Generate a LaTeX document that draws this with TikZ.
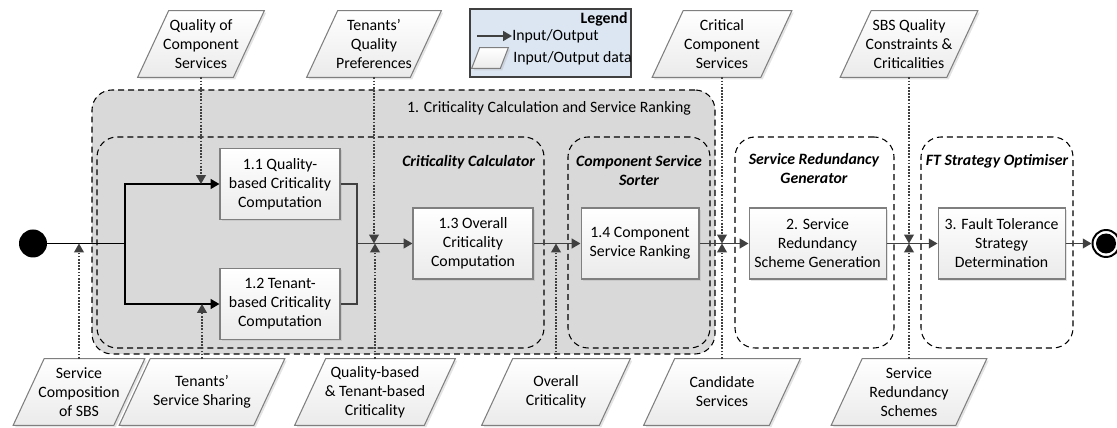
\documentclass[tikz,border=0pt]{standalone}
\usepackage{fontspec}
\setmainfont{Carlito}
\usepackage{xcolor}
\usepackage{tikz}
\usetikzlibrary{arrows.meta,positioning,shapes.geometric,calc,fit,backgrounds,shadows}

\definecolor{lanegray}{HTML}{D9D9D9}
\definecolor{legendblue}{HTML}{DCE6F2}
\definecolor{flowgray}{HTML}{404040}
\definecolor{edgegray}{HTML}{7F7F7F}
\newcommand{\diagfont}{\fontsize{9}{10.8}\selectfont}

\begin{document}
\begin{tikzpicture}[
    x=0.02cm, y=-0.02cm,
    font=\diagfont,
    procbox/.style={draw=edgegray, top color=white, bottom color=gray!16, align=center, minimum height=1.42cm, inner sep=2pt, line width=0.6pt, drop shadow={shadow xshift=1.1pt, shadow yshift=-1.1pt, opacity=0.3, fill=gray!70}},
    datanode/.style={align=center, minimum height=1.32cm, inner sep=1pt},
    datashape/.style={draw=edgegray, top color=white, bottom color=gray!16, line width=0.6pt, drop shadow={shadow xshift=1.1pt, shadow yshift=-1.1pt, opacity=0.3, fill=gray!70}},
    groupframe/.style={draw=black, dash pattern=on 3.4pt off 2.3pt, rounded corners=0.4cm, line width=0.6pt, inner sep=0pt},
    grouptitle/.style={font=\diagfont\bfseries\itshape, align=center, inner sep=1pt},
    legendbox/.style={draw=flowgray, fill=legendblue, line width=0.6pt, minimum width=3.22cm, minimum height=1.36cm, inner sep=0pt},
    startdot/.style={circle, fill=black, minimum size=0.56cm, inner sep=0pt},
    enddot/.style={circle, draw=black, line width=1.1pt, minimum size=0.54cm, inner sep=0pt, path picture={\fill[black] (path picture bounding box.center) circle (0.2cm);}},
    flowline/.style={line width=1.1pt, draw=flowgray},
    flowarrow/.style={flowline, -{Triangle[length=5pt,width=5.5pt]}},
    dataarrow/.style={draw=flowgray, line width=0.8pt, dash pattern=on 1pt off 0.8pt, -{Triangle[length=5pt,width=5.5pt]}}
]
\useasboundingbox (0,0) rectangle (1117,428);

% ===== MAIN FLOW =====
\node[startdot] (start) at (33,243.5) {};
\node[procbox, minimum width=2.4cm] (calcq) at (280,184) {1.1 Quality-\\based Criticality\\Computation};
\node[procbox, minimum width=2.4cm, below=0.96cm of calcq] (calct) {1.2 Tenant-\\based Criticality\\Computation};
\node[procbox, minimum width=2.4cm] (calco) at (473,243.5) {1.3 Overall\\Criticality\\Computation};
\node[procbox, minimum width=2.36cm, right=0.94cm of calco] (rank) {1.4 Component\\Service Ranking};
\node[procbox, minimum width=2.74cm, right=0.98cm of rank] (redund) {2. Service\\Redundancy\\Scheme Generation};
\node[procbox, minimum width=2.54cm, right=1.02cm of redund] (ftsel) {3. Fault Tolerance\\Strategy\\Determination};
\node[enddot, right=0.52cm of ftsel] (finish) {};

\coordinate (split) at (125,243.5);
\coordinate (merge) at (357,243.5);

\draw[flowline, draw=black] (start) -- (split);
\draw[flowarrow, draw=black] (split) |- (calcq.west);
\draw[flowarrow, draw=black] (split) |- (calct.west);
\draw[flowline] (calcq.east) -| (merge) |- (calct.east);
\draw[flowarrow] (merge) -- (calco);
\draw[flowarrow] (calco) -- (rank);
\draw[flowarrow] (rank) -- (redund);
\draw[flowarrow] (redund) -- (ftsel);
\draw[flowarrow] (ftsel) -- (finish);

% ===== GROUPS =====
\begin{scope}[on background layer]
\node[groupframe, fill=lanegray, fit={(92,90) (715,354)}] (stage1) {};
\node[groupframe, fill=lanegray, fit={(97,137) (544,348)}] (calcframe) {};
\node[groupframe, fill=lanegray, fit={(568,137) (710,348)}] (sorterframe) {};
\node[groupframe, fit={(735,137) (894,348)}] (redundframe) {};
\node[groupframe, fit={(921,137) (1073,348)}] (ftframe) {};
\end{scope}

\node (stage1title) at (549,108) {1. Criticality Calculation and Service Ranking};
\node[grouptitle, anchor=east] (calctitle) at (537,162) {Criticality Calculator};
\node[grouptitle] (sortertitle) at (639,171) {Component Service\\Sorter};
\node[grouptitle] (redundtitle) at (814,169) {Service Redundancy\\Generator};
\node[grouptitle] (fttitle) at (997,161) {FT Strategy Optimiser};

% ===== INPUT/OUTPUT DATA =====
\node[datanode, minimum width=1.9cm] (qualcs) at (201,44) {Quality of\\Component\\Services};
\node[datanode, minimum width=2.06cm] (prefs) at (374,44) {Tenants’\\Quality\\Preferences};
\node[datanode, minimum width=2.16cm] (critcs) at (722,44) {Critical\\Component\\Services};
\node[datanode, minimum width=2.12cm] (constr) at (909,44) {SBS Quality\\Constraints \&\\Criticalities};

\node[datanode, minimum width=2.0cm] (compos) at (79,392) {Service\\Composition\\of SBS};
\node[datanode, minimum width=2.68cm] (sharing) at (202,392) {Tenants’\\Service Sharing};
\node[datanode, minimum width=2.58cm] (qtcrit) at (375,392) {Quality-based\\\& Tenant-based\\Criticality};
\node[datanode, minimum width=2.34cm] (overall) at (556,392) {Overall\\Criticality};
\node[datanode, minimum width=2.5cm] (cands) at (722,392) {Candidate\\Services};
\node[datanode, minimum width=2.48cm] (schemes) at (909,392) {Service\\Redundancy\\Schemes};

% slanted outlines under the data texts
\begin{scope}[on background layer]
\foreach \d in {qualcs,prefs,critcs,constr,compos,sharing,qtcrit,overall,cands,schemes}
  \draw[datashape] ($(\d.south west)+(-15.5,0)$) -- ($(\d.south east)+(-15.5,0)$)
    -- ($(\d.north east)+(15.5,0)$) -- ($(\d.north west)+(15.5,0)$) -- cycle;
\end{scope}

\draw[dataarrow] (qualcs.south) -- (qualcs.south |- calcq.west);
\draw[dataarrow] (prefs.south) -- (prefs.south |- calco.west);
\draw[dataarrow] (critcs.south) -- (critcs.south |- rank.east);
\draw[dataarrow] (constr.south) -- (constr.south |- ftsel.west);
\draw[dataarrow] (compos.north) -- (compos.north |- start.east);
\draw[dataarrow] (sharing.north) -- (sharing.north |- calct.west);
\draw[dataarrow] (qtcrit.north) -- (qtcrit.north |- calco.west);
\draw[dataarrow] (overall.north) -- (overall.north |- rank.west);
\draw[dataarrow] (cands.north) -- (cands.north |- rank.east);
\draw[dataarrow] (schemes.north) -- (schemes.north |- ftsel.west);

% ===== LEGEND =====
\begin{scope}[on background layer]
\node[legendbox] (legend) at (550.5,43) {};
\end{scope}
\node[font=\diagfont\bfseries, anchor=north east, inner sep=2pt] (legendtitle) at (legend.north east) {Legend};
\coordinate (legfrom) at (477,36);
\node[anchor=west, inner sep=0pt] (legio) at (512,36) {Input/Output};
\draw[flowarrow] (legfrom) -- (legio.west);
\node[inner sep=0pt, minimum width=0.56cm, minimum height=0.4cm] (legdata) at (490,58) {};
\node[anchor=west, inner sep=0pt] (legdatatext) at (513,58) {Input/Output data};
\begin{scope}[on background layer]
\draw[datashape] ($(legdata.south west)+(-4,0)$) -- ($(legdata.south east)+(-4,0)$)
    -- ($(legdata.north east)+(4,0)$) -- ($(legdata.north west)+(4,0)$) -- cycle;
\end{scope}

\end{tikzpicture}
\end{document}
